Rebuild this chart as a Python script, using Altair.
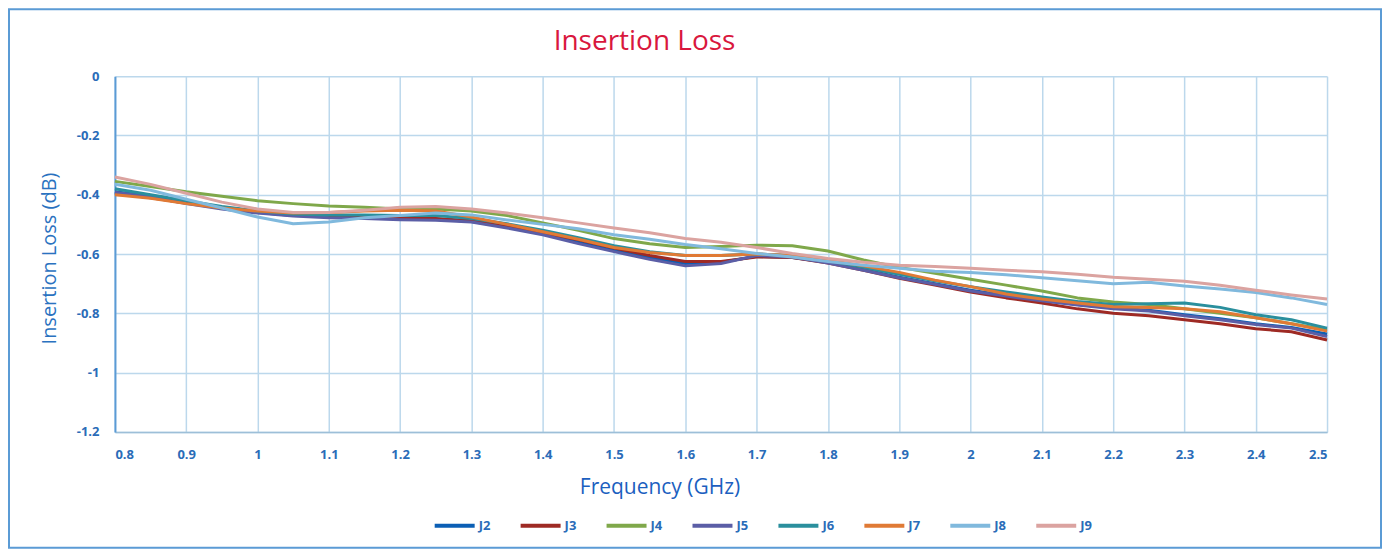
import altair as alt
import pandas as pd

freq = [round(0.80 + 0.05 * i, 2) for i in range(35)]

J2 = [-0.390,-0.405,-0.425,-0.445,-0.460,-0.470,-0.472,-0.475,-0.480,-0.482,-0.490,-0.508,-0.530,-0.560,-0.588,-0.612,-0.632,-0.628,-0.608,-0.612,-0.628,-0.652,-0.678,-0.700,-0.722,-0.740,-0.756,-0.770,-0.782,-0.790,-0.805,-0.818,-0.835,-0.848,-0.870]
J3 = [-0.395,-0.410,-0.428,-0.442,-0.458,-0.468,-0.470,-0.472,-0.476,-0.480,-0.488,-0.505,-0.528,-0.552,-0.580,-0.605,-0.625,-0.625,-0.610,-0.612,-0.630,-0.655,-0.682,-0.705,-0.728,-0.748,-0.765,-0.785,-0.800,-0.808,-0.822,-0.835,-0.852,-0.862,-0.890]
J4 = [-0.355,-0.372,-0.390,-0.405,-0.420,-0.430,-0.438,-0.442,-0.448,-0.448,-0.455,-0.470,-0.495,-0.520,-0.548,-0.565,-0.578,-0.575,-0.570,-0.572,-0.590,-0.620,-0.645,-0.665,-0.685,-0.705,-0.725,-0.748,-0.762,-0.770,-0.785,-0.800,-0.815,-0.835,-0.855]
J5 = [-0.392,-0.408,-0.430,-0.448,-0.462,-0.472,-0.478,-0.480,-0.484,-0.486,-0.492,-0.512,-0.535,-0.565,-0.592,-0.618,-0.640,-0.632,-0.605,-0.610,-0.630,-0.655,-0.680,-0.702,-0.725,-0.742,-0.758,-0.772,-0.785,-0.792,-0.808,-0.822,-0.838,-0.850,-0.878]
J6 = [-0.380,-0.400,-0.420,-0.440,-0.455,-0.465,-0.468,-0.468,-0.470,-0.470,-0.480,-0.498,-0.520,-0.545,-0.572,-0.592,-0.605,-0.605,-0.600,-0.605,-0.622,-0.645,-0.668,-0.690,-0.710,-0.728,-0.745,-0.760,-0.770,-0.768,-0.765,-0.780,-0.805,-0.822,-0.850]
J7 = [-0.400,-0.412,-0.430,-0.445,-0.455,-0.462,-0.460,-0.455,-0.452,-0.455,-0.475,-0.500,-0.525,-0.550,-0.578,-0.595,-0.605,-0.605,-0.600,-0.605,-0.620,-0.640,-0.662,-0.688,-0.710,-0.735,-0.752,-0.765,-0.778,-0.780,-0.785,-0.795,-0.815,-0.835,-0.860]
J8 = [-0.365,-0.385,-0.415,-0.445,-0.475,-0.498,-0.492,-0.478,-0.470,-0.462,-0.468,-0.485,-0.500,-0.515,-0.535,-0.550,-0.568,-0.582,-0.598,-0.610,-0.625,-0.638,-0.648,-0.658,-0.662,-0.670,-0.680,-0.690,-0.700,-0.695,-0.708,-0.718,-0.730,-0.748,-0.770]
J9 = [-0.340,-0.365,-0.395,-0.425,-0.448,-0.460,-0.460,-0.452,-0.442,-0.440,-0.448,-0.462,-0.478,-0.495,-0.512,-0.528,-0.548,-0.560,-0.578,-0.598,-0.615,-0.628,-0.638,-0.642,-0.648,-0.655,-0.660,-0.668,-0.678,-0.685,-0.692,-0.705,-0.722,-0.738,-0.752]

series_names = ["J2", "J3", "J4", "J5", "J6", "J7", "J8", "J9"]
series_vals = [J2, J3, J4, J5, J6, J7, J8, J9]
colors = ["#0b5fb5", "#9e2a24", "#7fa84a", "#5b5ea6", "#2a8f9d", "#e07a35", "#80b9dd", "#dba3a0"]

x_ticks = [0.8, 0.9, 1, 1.1, 1.2, 1.3, 1.4, 1.5, 1.6, 1.7, 1.8, 1.9, 2, 2.1, 2.2, 2.3, 2.4, 2.5]
y_ticks = [0, -0.2, -0.4, -0.6, -0.8, -1, -1.2]

rows = []
for k, (name, vals) in enumerate(zip(series_names, series_vals)):
    for f, v in zip(freq, vals):
        rows.append({"freq": f, "loss": v, "series": name, "ord": k})
df = pd.DataFrame(rows)

FONT = "Open Sans"
BLUE = "#2a6cb8"

lines = alt.Chart(df).mark_line(strokeWidth=3, strokeJoin="round").encode(
    x=alt.X("freq:Q",
            scale=alt.Scale(domain=[0.8, 2.5], nice=False, zero=False),
            axis=alt.Axis(values=x_ticks, labelExpr="toString(datum.value)",
                          title="Frequency (GHz)", titleX=545, titleY=56,
                          titleBaseline="middle", titleFontSize=21,
                          titleFontWeight="normal", titleColor="#1c5fbf",
                          labelFontSize=13, labelFontWeight="bold", labelColor=BLUE,
                          labelPadding=17, ticks=False, domainColor="#9dbfd8",
                          domainWidth=1.5, gridColor="#bcd8ec", gridWidth=1.5)),
    y=alt.Y("loss:Q",
            scale=alt.Scale(domain=[-1.2, 0], nice=False),
            axis=alt.Axis(values=y_ticks, labelExpr="toString(datum.value)",
                          title="Insertion Loss (dB)", titleX=-65, titleY=182,
                          titleBaseline="middle", titleFontSize=20,
                          titleFontWeight="normal", titleColor="#2a72c0",
                          labelFontSize=13, labelFontWeight="bold", labelColor=BLUE,
                          labelPadding=16, ticks=False, domainColor="#5b9bd5",
                          domainWidth=2, gridColor="#bcd8ec", gridWidth=1.5)),
    color=alt.Color("series:N",
                    scale=alt.Scale(domain=series_names, range=colors),
                    legend=alt.Legend(orient="none", legendX=318, legendY=428,
                                      direction="horizontal", columns=8, title=None,
                                      symbolType="stroke", symbolSize=1600,
                                      symbolStrokeWidth=4, labelFontSize=13,
                                      labelFontWeight="bold", labelColor=BLUE,
                                      labelOffset=2, columnPadding=22)),
    order=alt.Order("ord:Q"),
    detail="series:N",
)

one = pd.DataFrame({"a": [0]})

frame = alt.Chart(one).mark_rect(
    fill="transparent", stroke="#5b9bd5", strokeWidth=2
).encode(x=alt.value(-106), x2=alt.value(1267), y=alt.value(-67), y2=alt.value(472))

title = alt.Chart(one).mark_text(
    text="Insertion Loss", fontSize=28, font=FONT, fontWeight="normal",
    color="#d9173d", align="center", baseline="middle"
).encode(x=alt.value(530), y=alt.value(-34))

chart = alt.layer(lines, frame, title).properties(
    width=1213, height=356,
    padding=0,
).configure(font=FONT).configure_view(stroke=None)

chart.save("out.html", embed_options={"renderer": "svg", "actions": False})
